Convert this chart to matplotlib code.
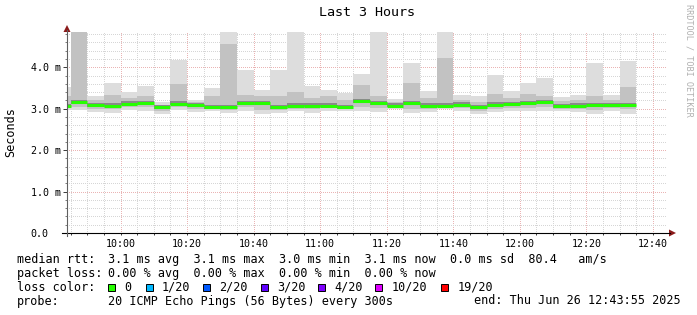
import datetime as dt
import matplotlib
matplotlib.use("Agg")
import matplotlib.pyplot as plt
import matplotlib.dates as mdates
from matplotlib.lines import Line2D
from matplotlib.patches import Polygon, Rectangle
from matplotlib.ticker import MultipleLocator

W, H = 697, 315
MONO = "DejaVu Sans Mono"

# 5 minute intervals, start of each bar
start = dt.datetime(2025, 6, 26, 9, 40)
times = [start + dt.timedelta(minutes=5 * i) for i in range(35)]

# smoke levels (ms): max, top of darker smoke, median, bottom of darker smoke, min
hi = [3.53, 4.84, 3.30, 3.61, 3.40, 3.54, 3.15, 4.18, 3.21, 3.49, 4.84, 3.93,
      3.45, 3.93, 4.84, 3.54, 3.44, 3.37, 3.83, 4.84, 3.24, 4.10, 3.42, 4.84,
      3.34, 3.30, 3.81, 3.42, 3.61, 3.75, 3.28, 3.32, 4.10, 3.32, 4.14]
up = [3.30, 4.84, 3.22, 3.32, 3.25, 3.30, 3.10, 3.60, 3.15, 3.30, 4.57, 3.33,
      3.30, 3.30, 3.40, 3.25, 3.30, 3.20, 3.56, 3.30, 3.15, 3.61, 3.25, 4.23,
      3.22, 3.15, 3.35, 3.25, 3.35, 3.30, 3.18, 3.20, 3.30, 3.20, 3.53]
med = [3.06, 3.16, 3.08, 3.07, 3.12, 3.13, 3.03, 3.12, 3.08, 3.03, 3.04, 3.13,
       3.13, 3.04, 3.07, 3.07, 3.07, 3.03, 3.18, 3.13, 3.07, 3.13, 3.07, 3.07,
       3.10, 3.03, 3.09, 3.11, 3.13, 3.16, 3.06, 3.07, 3.08, 3.08, 3.08]
dn = [3.02, 3.05, 3.00, 2.98, 3.03, 3.03, 2.95, 3.03, 3.00, 2.98, 2.97, 3.03,
      2.97, 2.97, 3.00, 2.99, 3.01, 3.00, 3.03, 3.02, 3.03, 3.00, 3.00, 3.03,
      3.01, 2.95, 3.00, 3.02, 3.02, 3.03, 3.00, 3.00, 2.97, 3.01, 2.98]
lo = [2.97, 2.97, 2.92, 2.89, 2.96, 2.95, 2.86, 2.96, 2.92, 2.94, 2.89, 2.95,
      2.86, 2.89, 2.94, 2.90, 2.95, 2.95, 2.95, 2.92, 2.98, 2.89, 2.92, 2.98,
      2.95, 2.86, 2.92, 2.95, 2.94, 2.94, 2.95, 2.92, 2.87, 2.94, 2.87]

ytick_vals = [0, 1, 2, 3, 4]
ytick_labels = ["0.0", "1.0 m", "2.0 m", "3.0 m", "4.0 m"]

loss_labels = ["0", "1/20", "2/20", "3/20", "4/20", "10/20", "19/20"]
loss_colors = ["#26ff00", "#00b8ff", "#0059ff", "#5e00ff", "#7e00ff", "#dd00ff", "#ff0000"]
loss_box_x = [108.3, 145.7, 203.3, 260.7, 318.0, 375.4, 441.4]

rtt_stats = "3.1 ms avg  3.1 ms max  3.0 ms min  3.1 ms now  0.0 ms sd  80.4   am/s"
loss_stats = "0.00 % avg  0.00 % max  0.00 % min  0.00 % now"
probe_text = "20 ICMP Echo Pings (56 Bytes) every 300s"
end_text = "end: Thu Jun 26 12:43:55 2025"


def fx(x):
    return x / W


def fy(y):
    return 1 - y / H


fig = plt.figure(figsize=(W / 100, H / 100), dpi=100)
fig.patch.set_facecolor("white")
ax = fig.add_axes([fx(67), fy(233), (666 - 67) / W, (233 - 32) / H])

x = mdates.date2num(times)
width = 5 / 1440

ax.bar(x, [h - l for h, l in zip(hi, lo)], width, bottom=lo, align="edge",
       color="#dddddd", linewidth=0)
ax.bar(x, [u - d for u, d in zip(up, dn)], width, bottom=dn, align="edge",
       color="#c2c2c2", linewidth=0)
ax.bar(x, [0.10] * len(med), width, bottom=[m - 0.04 for m in med], align="edge",
       color="#8a8a8a", linewidth=0)
ax.hlines(med, x, x + width, colors="#26ff00", linewidth=2.2)

ax.set_xlim(dt.datetime(2025, 6, 26, 9, 43, 55), dt.datetime(2025, 6, 26, 12, 43, 55))
ax.set_ylim(0, 4.85)

ax.xaxis.set_major_locator(mdates.MinuteLocator(byminute=[0, 20, 40]))
ax.xaxis.set_minor_locator(mdates.MinuteLocator(byminute=range(0, 60, 5)))
ax.xaxis.set_major_formatter(mdates.DateFormatter("%H:%M"))
ax.yaxis.set_major_locator(MultipleLocator(1))
ax.yaxis.set_minor_locator(MultipleLocator(0.2))
ax.set_yticks(ytick_vals)
ax.set_yticklabels(ytick_labels)

ax.set_axisbelow(True)
ax.grid(which="minor", color="#d6d6d6", linestyle=(0, (1, 2)), linewidth=0.72,
        antialiased=False)
ax.grid(which="major", color="#eab4b4", linestyle=(0, (1, 2)), linewidth=0.72,
        antialiased=False)
for s in ax.spines.values():
    s.set_visible(False)

ax.tick_params(axis="x", which="both", direction="out", length=1.5, width=0.72,
               color="#404040", pad=2.5, labelsize=7.2)
ax.tick_params(axis="y", which="major", direction="out", length=2.9, width=0.72,
               color="#404040", pad=23.2, labelsize=7.2)
ax.tick_params(axis="y", which="minor", direction="out", length=1.5, width=0.72,
               color="#808080")
for lab in ax.get_yticklabels():
    lab.set_horizontalalignment("left")
    lab.set_family(MONO)
for lab in ax.get_xticklabels():
    lab.set_family(MONO)

# axis lines with arrows
fig.add_artist(Line2D([fx(62), fx(670)], [fy(233), fy(233)], color="black", lw=0.8))
fig.add_artist(Line2D([fx(67), fx(67)], [fy(236), fy(30)], color="#606060", lw=0.8))
fig.add_artist(Polygon([[fx(63.5), fy(32)], [fx(70.5), fy(32)], [fx(67), fy(25)]],
                       closed=True, color="#8b1a1a", lw=0))
fig.add_artist(Polygon([[fx(669), fy(229.5)], [fx(669), fy(236.5)], [fx(676), fy(233)]],
                       closed=True, color="#8b1a1a", lw=0))

fig.text(fx(366.5), fy(13), "Last 3 Hours", family=MONO, size=9.6, ha="center", va="center")
fig.text(fx(11), fy(132), "Seconds", family=MONO, size=8.5, rotation=90,
         ha="center", va="center")
fig.text(fx(689), fy(4), "RRDTOOL / TOBI OETIKER", family=MONO, size=6.1,
         rotation=270, ha="center", va="top", color="#b0b0b0")

ty = [259.7, 273.5, 287.4, 301.0]
fig.text(fx(16.7), fy(ty[0]), "median rtt:", family=MONO, size=8.5, va="center")
fig.text(fx(107.7), fy(ty[0]), rtt_stats, family=MONO, size=8.5, va="center")
fig.text(fx(16.7), fy(ty[1]), "packet loss:", family=MONO, size=8.5, va="center")
fig.text(fx(107.7), fy(ty[1]), loss_stats, family=MONO, size=8.5, va="center")
fig.text(fx(16.7), fy(ty[2]), "loss color:", family=MONO, size=8.5, va="center")
for bx, lab, col in zip(loss_box_x, loss_labels, loss_colors):
    fig.add_artist(Rectangle((fx(bx), fy(ty[2] + 3.5)), 7 / W, 7 / H,
                             facecolor=col, edgecolor="black", lw=0.7))
    fig.text(fx(bx + 16), fy(ty[2]), lab, family=MONO, size=8.5, va="center")
fig.text(fx(16.7), fy(ty[3]), "probe:", family=MONO, size=8.5, va="center")
fig.text(fx(107.7), fy(ty[3]), probe_text, family=MONO, size=8.5, va="center")
fig.text(fx(681), fy(ty[3]), end_text, family=MONO, size=8.5, va="center", ha="right")

fig.savefig("out.png", dpi=100)
